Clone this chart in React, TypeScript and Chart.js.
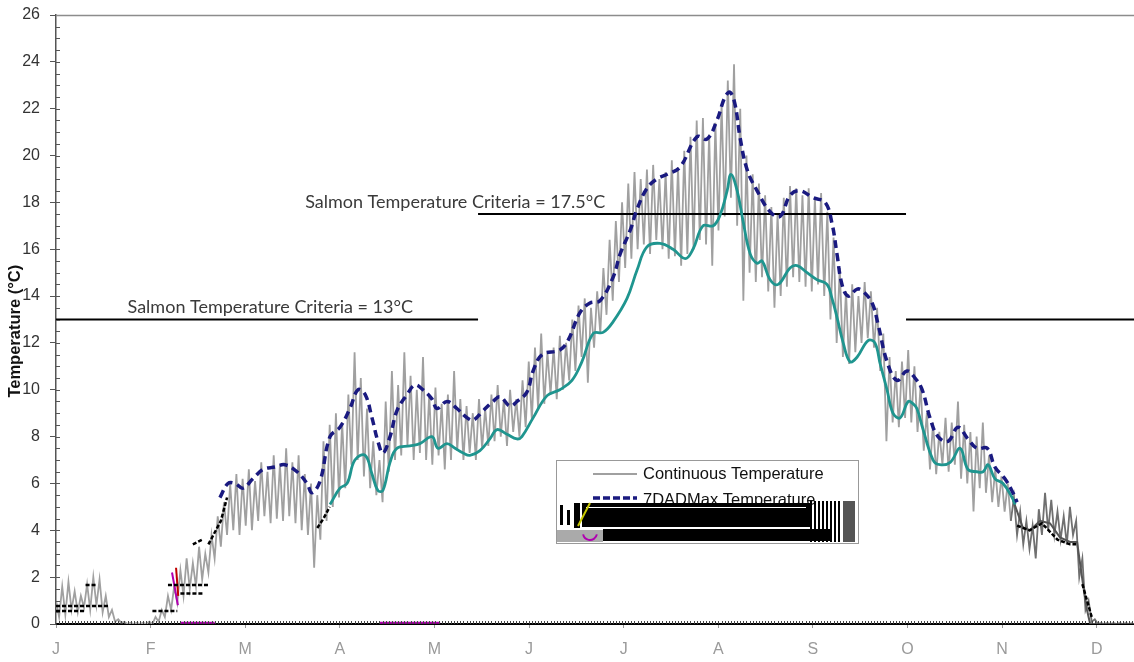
import React, { useEffect, useRef } from "react";
import { Chart, registerables } from "chart.js";
Chart.register(...registerables);

// ---------- axis labels ----------
const monthLabels = ["J", "F", "M", "A", "M", "J", "J", "A", "S", "O", "N", "D"];
const yTickLabels = [0, 2, 4, 6, 8, 10, 12, 14, 16, 18, 20, 22, 24, 26];
const yTitle = "Temperature (°C)";

// ---------- Continuous temperature: daily highs (even days) and lows (odd days) ----------
const contHigh = [
  1.0, 1.6, 1.8, 1.4, 1.2, 1.7, 2.0, 1.9, 1.2, 0.6, 0.2, 0.1, 0.05, 0.05, 0.05,
  0.1, 0.3, 0.6, 1.2, 1.6, 2.3, 2.8, 2.6, 3.3, 3.0, 3.8, 4.6, 5.2, 6.0, 6.4,
  6.2, 6.6, 6.1, 6.9, 6.5, 7.2, 6.8, 7.5, 6.9, 7.2, 6.4, 6.0, 5.5, 7.8, 8.5,
  9.0, 8.6, 9.8, 11.6, 10.5, 9.2, 7.8, 7.0, 9.5, 10.8, 10.2, 11.6, 10.6, 10.0, 11.4,
  9.8, 10.1, 9.4, 9.8, 10.8, 9.6, 9.3, 9.0, 9.6, 9.2, 9.8, 10.2, 9.6, 10.0, 9.6,
  10.4, 11.2, 11.8, 12.4, 11.6, 11.8, 12.3, 12.0, 13.0, 13.6, 13.9, 13.5, 14.2, 15.2, 16.4,
  17.2, 18.0, 18.8, 19.3, 19.0, 19.4, 19.6, 19.0, 19.3, 19.8, 19.5, 20.2, 20.8, 21.5, 21.6,
  20.9, 21.4, 22.2, 23.2, 23.9, 22.0, 20.0, 19.2, 18.8, 18.3, 17.8, 17.5, 18.2, 18.7, 18.6,
  18.3, 18.6, 18.2, 18.4, 17.6, 16.5, 15.2, 14.2, 14.5, 14.0, 14.6, 14.2, 13.5, 12.4, 11.4,
  10.8, 11.2, 11.7, 11.0, 10.2, 9.0, 8.6, 8.2, 8.8, 8.6, 9.5, 8.5, 8.2, 8.0, 8.6,
  7.2, 6.6, 6.3, 6.0, 5.4, 4.8, 4.4, 4.2, 4.9, 5.6, 5.3, 4.8, 4.6, 5.0, 4.4,
  2.8, 1.0, 0.2, 0.05, 0.05, 0.05, 0.05, 0.05, 0.05,
];
const contLow = [
  0.3, 0.4, 0.6, 0.5, 0.7, 0.6, 0.8, 0.5, 0.3, 0.1, 0.05, 0.0, 0.0, 0.0, 0.0,
  0.0, 0.1, 0.3, 0.6, 0.9, 1.2, 1.5, 1.6, 1.9, 2.2, 2.8, 3.3, 3.8, 4.0, 3.8,
  4.2, 4.0, 4.4, 4.6, 4.3, 4.5, 4.4, 4.6, 4.3, 4.0, 3.8, 2.4, 3.6, 4.4, 5.0,
  5.4, 5.8, 6.8, 7.0, 6.3, 5.8, 5.5, 5.2, 6.5, 7.0, 7.2, 7.6, 7.0, 7.3, 7.0,
  6.8, 7.2, 6.6, 7.0, 7.4, 7.0, 7.3, 7.0, 7.5, 7.6, 7.8, 8.0, 7.6, 8.2, 8.0,
  8.4, 8.7, 9.2, 9.4, 9.8, 9.6, 10.0, 10.4, 10.8, 11.4, 10.3, 11.8, 12.4, 13.2, 13.8,
  14.6, 15.2, 15.6, 16.0, 16.2, 15.8, 16.4, 16.0, 15.6, 15.7, 15.3, 15.8, 16.0, 16.4, 16.2,
  15.3, 16.8, 17.4, 18.2, 17.0, 13.8, 15.0, 14.6, 14.8, 14.2, 13.5, 14.0, 14.4, 14.8, 14.6,
  14.4, 14.2, 14.5, 14.0, 13.0, 12.0, 11.4, 11.1, 11.6, 12.0, 12.2, 11.8, 10.8, 7.8, 8.6,
  8.4, 8.8, 8.6, 8.2, 7.4, 6.6, 6.4, 6.8, 6.5, 6.8, 6.2, 6.0, 4.8, 5.8, 5.6,
  5.2, 5.0, 4.8, 4.4, 3.8, 3.4, 3.2, 2.8, 3.8, 4.0, 3.8, 3.6, 3.4, 3.8, 2.0,
  0.6, 0.1, 0.0, 0.0, 0.0, 0.0, 0.0, 0.0,
];

// ---------- 7DADMax temperature ----------
const maxDays = [
  52.7, 55.3, 57.6, 60.1, 63.3, 66.6, 70.4, 73.6, 77.5, 80.7, 82.3, 84.9, 88.1, 91.3, 94.5,
  97.1, 99.4, 101.6, 103.5, 105.1, 107.4, 109.6, 112.9, 115.4, 118.0, 120.9, 122.5, 125.7, 128.9, 132.2,
  134.1, 137.3, 140.5, 142.8, 146.0, 148.2, 151.4, 153.4, 156.3, 162.0, 164.6, 168.5, 171.7, 174.9, 179.1,
  181.4, 184.6, 186.8, 190.0, 193.2, 196.5, 200.6, 206.1, 209.3, 212.5, 215.1, 216.7, 218.3, 219.9, 222.2,
  225.4, 229.6, 232.8, 236.0, 239.2, 243.4, 247.3, 249.5, 251.1, 252.7, 254.7, 257.6, 259.5, 262.4, 264.3,
  267.2, 270.4, 273.6, 276.2, 278.5, 281.0, 283.6, 286.8, 290.0, 293.2, 296.1, 299.4, 301.9, 305.1, 307.7,
  309.0,
];
const maxTemps = [
  5.4, 6.0, 6.0, 5.8, 6.2, 6.6, 6.7, 6.8, 6.5, 6.0, 5.6, 6.1, 8.0, 8.4, 9.2,
  10.0, 9.8, 8.8, 7.8, 7.3, 8.0, 9.1, 9.8, 10.2, 10.0, 9.6, 9.2, 9.5, 9.2, 8.8,
  8.7, 9.1, 9.5, 9.7, 9.3, 9.5, 9.9, 10.8, 11.5, 11.7, 12.1, 13.3, 13.7, 13.8, 14.8,
  15.8, 16.8, 17.7, 18.6, 19.0, 19.2, 19.5, 20.8, 20.7, 21.5, 22.5, 22.7, 22.2, 20.8, 19.4,
  18.5, 17.6, 17.4, 18.3, 18.5, 18.2, 18.0, 17.1, 15.8, 14.5, 14.0, 14.3, 14.2, 13.7, 12.8,
  11.2, 10.4, 10.8, 10.5, 10.0, 8.8, 8.0, 7.8, 8.4, 7.9, 7.5, 7.5, 6.7, 6.2, 5.6,
  5.2,
];

// ---------- 7-day average mean temperature ----------
const meanDays = [
  88.1, 91.3, 93.6, 96.1, 99.4, 101.6, 103.5, 105.1, 107.4, 109.6, 113.8, 117.0, 120.9, 122.8, 125.7,
  128.3, 130.9, 133.1, 136.3, 139.5, 141.8, 145.0, 148.2, 149.8, 153.4, 157.9, 162.0, 165.9, 169.1, 172.7,
  175.9, 179.1, 183.6, 186.8, 190.0, 194.2, 198.4, 202.3, 204.8, 208.0, 211.3, 213.5, 215.8, 217.0, 219.0,
  220.9, 223.2, 225.4, 227.0, 229.6, 232.2, 236.0, 238.3, 241.5, 244.7, 247.9, 249.5, 251.1, 253.1, 255.3,
  257.6, 261.1, 263.3, 265.0, 267.2, 269.1, 271.4, 274.0, 275.6, 276.8, 278.8, 282.0, 284.2, 287.5, 290.7,
  293.2, 296.1, 298.1, 299.7, 301.9, 304.5, 307.4, 308.4,
];
const meanTemps = [
  5.1, 5.8, 6.0, 7.0, 7.2, 6.4, 5.7, 5.7, 6.9, 7.5, 7.6, 7.7, 8.0, 7.5, 7.7,
  7.5, 7.3, 7.2, 7.4, 7.9, 8.3, 8.1, 7.9, 8.0, 8.8, 9.75, 10.0, 10.4, 11.2, 12.4,
  12.45, 12.9, 13.9, 15.1, 16.1, 16.25, 16.0, 15.6, 16.0, 17.0, 17.0, 17.45, 18.5, 19.2, 18.5,
  17.2, 15.8, 15.4, 15.5, 14.7, 14.5, 15.2, 15.3, 15.0, 14.7, 14.5, 13.9, 13.1, 12.0, 11.2,
  11.4, 12.1, 12.0, 11.1, 10.0, 9.0, 8.8, 9.5, 9.4, 9.2, 8.3, 7.0, 6.8, 6.9, 7.5,
  6.6, 6.5, 6.5, 6.8, 6.2, 6.0, 5.4, 5.1,
];

// ---------- other-site traces (winter fragments) ----------
const darkDays = [307.7, 310.9, 313.2, 316.4, 319.6, 322.8, 326.0, 328.3, 330.2, 331.5, 332.5, 346.6];
const darkTemps = [5.3, 4.1, 4.0, 4.4, 4.3, 3.7, 3.5, 3.5, 1.7, 0.6, 0.0, 0.0];

const blackDays = [
  0, 9, 9, 0, 17, 17, 9.5, 13, 13, 31, 39, 39, 36, 49, 49, 40, 47.5, 47.5,
  44, 47, 47, 49, 53, 55, 55, 84, 86, 88, 88, 309, 313, 317, 322, 326, 328, 328, 330, 333,
];
const blackTemps = [
  0.55, 0.55, null, 0.77, 0.77, null, 1.67, 1.67, null, 0.55, 0.55, null, 1.67, 1.67, null, 1.3, 1.3, null,
  3.4, 3.6, null, 3.4, 4.4, 5.4, null, 4.1, 4.5, 5.0, null, 4.2, 4.0, 4.3, 3.6, 3.4, 3.4, null, 1.7, 0.3,
];

const magentaDays = [40, 51, 51, 104, 123.5, 123.5, 37.3, 39.2];
const magentaTemps = [0.05, 0.05, null, 0.05, 0.05, null, 2.2, 0.8];
const redDays = [38.6, 39.3];
const redTemps = [2.4, 1.2];

// ---------- criteria ----------
const criteriaLowDays = [0, 135.7];
const criteriaHighDays = [135.7, 273.3];
const criteriaLateDays = [273.3, 346.6];
const criteriaLow = 13;
const criteriaHigh = 17.5;
const darkStartDay = 307;
const darkEndDay = 334;

const X_MAX = 346.6;
const MONTH_LEN = 30.42;

const zip = (xs: number[], ys: (number | null)[]) => xs.map((x, i) => ({ x, y: ys[i] }));

const extrasPlugin = {
  id: "extras",
  afterDatasetsDraw(chart: any) {
    const { ctx, chartArea, scales } = chart;
    const xs = scales.x;
    const ys = scales.y;
    ctx.save();
    // top border
    ctx.strokeStyle = "#8c8c8c";
    ctx.lineWidth = 1.5;
    ctx.beginPath();
    ctx.moveTo(chartArea.left, chartArea.top + 0.5);
    ctx.lineTo(chartArea.right, chartArea.top + 0.5);
    ctx.stroke();
    // y minor ticks
    ctx.strokeStyle = "#555";
    ctx.lineWidth = 1;
    for (let v = 0.5; v < 26; v += 0.5) {
      const y = Math.round(ys.getPixelForValue(v)) + 0.5;
      ctx.beginPath();
      ctx.moveTo(chartArea.left, y);
      ctx.lineTo(chartArea.left + 4, y);
      ctx.stroke();
    }
    // x minor ticks (daily)
    ctx.strokeStyle = "#444";
    for (let d = 1; d < X_MAX; d += 1) {
      const x = Math.round(xs.getPixelForValue(d)) + 0.5;
      ctx.beginPath();
      ctx.moveTo(x, chartArea.bottom);
      ctx.lineTo(x, chartArea.bottom - 3);
      ctx.stroke();
    }
    // criteria labels
    ctx.fillStyle = "#3a3a3a";
    ctx.font = "18px Lato";
    ctx.textBaseline = "alphabetic";
    ctx.fillText("Salmon Temperature Criteria = 13°C", xs.getPixelForValue(23), ys.getPixelForValue(criteriaLow) - 7);
    ctx.fillText("Salmon Temperature Criteria = 17.5°C", xs.getPixelForValue(80.1), ys.getPixelForValue(criteriaHigh) - 6);
    // y axis title
    ctx.save();
    ctx.translate(15, ys.getPixelForValue(12.5));
    ctx.rotate(-Math.PI / 2);
    ctx.fillStyle = "#111";
    ctx.font = 'bold 16.5px "Liberation Sans"';
    ctx.textAlign = "center";
    ctx.textBaseline = "middle";
    ctx.fillText(yTitle, 0, 0);
    ctx.restore();
    ctx.restore();
  },
  afterDraw(chart: any) {
    const { ctx } = chart;
    ctx.save();
    // legend box
    ctx.fillStyle = "#fff";
    ctx.fillRect(556, 460, 302, 83);
    ctx.strokeStyle = "#999";
    ctx.lineWidth = 1;
    ctx.strokeRect(556.5, 460.5, 302, 83);
    ctx.strokeStyle = "#a0a0a0";
    ctx.lineWidth = 2;
    ctx.beginPath();
    ctx.moveTo(593, 474);
    ctx.lineTo(637, 474);
    ctx.stroke();
    ctx.fillStyle = "#111";
    ctx.font = '16.5px "Liberation Sans"';
    ctx.textBaseline = "middle";
    ctx.fillText("Continuous Temperature", 643, 474);
    ctx.strokeStyle = "#1a1a80";
    ctx.lineWidth = 3.5;
    ctx.setLineDash([7, 3]);
    ctx.beginPath();
    ctx.moveTo(593, 498);
    ctx.lineTo(637, 498);
    ctx.stroke();
    ctx.setLineDash([]);
    ctx.fillText("7DADMax Temperature", 643, 500);
    // overdrawn blocks
    ctx.fillStyle = "#000";
    ctx.fillRect(582, 503, 228, 24);
    ctx.fillStyle = "#fff";
    ctx.fillRect(586, 507, 220, 1);
    ctx.fillStyle = "#000";
    for (let x = 810; x < 842; x += 4) ctx.fillRect(x, 501, 2, 41);
    ctx.fillStyle = "#555";
    ctx.fillRect(843, 501, 12, 41);
    ctx.fillStyle = "#aaa";
    ctx.fillRect(557, 530, 46, 12);
    ctx.fillStyle = "#000";
    ctx.fillRect(603, 529, 229, 12);
    ctx.fillRect(560, 505, 3, 20);
    ctx.fillRect(567, 510, 3, 15);
    ctx.fillRect(574, 503, 6, 25);
    ctx.strokeStyle = "#c8c800";
    ctx.lineWidth = 2;
    ctx.beginPath();
    ctx.moveTo(578, 526);
    ctx.lineTo(590, 503);
    ctx.stroke();
    ctx.strokeStyle = "#b000b0";
    ctx.beginPath();
    ctx.arc(590, 533, 7, 0.2, Math.PI - 0.2);
    ctx.stroke();
    ctx.restore();
  },
};

export default function App() {
  const canvasRef = useRef<HTMLCanvasElement | null>(null);

  useEffect(() => {
    const contPoints: { x: number; y: number }[] = [];
    const n = contHigh.length + contLow.length;
    for (let d = 0; d < n; d++) {
      contPoints.push({ x: d, y: d % 2 === 0 ? contHigh[d / 2] : contLow[(d - 1) / 2] });
    }
    const base = { pointRadius: 0, pointHoverRadius: 0, fill: false, spanGaps: false };
    const chart = new Chart(canvasRef.current as HTMLCanvasElement, {
      type: "line",
      data: {
        datasets: [
          { ...base, label: "7DADMax Temperature", data: zip(maxDays, maxTemps), borderColor: "#1a1a80", borderWidth: 3.5, borderDash: [8, 5], tension: 0.4, order: 0 },
          { ...base, label: "7DADM Temperature", data: zip(meanDays, meanTemps), borderColor: "#1f958f", borderWidth: 2.8, tension: 0.4, order: 1 },
          { ...base, label: "Criteria 13", data: zip(criteriaLowDays, criteriaLowDays.map(() => criteriaLow)), borderColor: "#000", borderWidth: 2, order: 2 },
          { ...base, label: "Criteria 17.5", data: zip(criteriaHighDays, criteriaHighDays.map(() => criteriaHigh)), borderColor: "#000", borderWidth: 2, order: 2 },
          { ...base, label: "Criteria 13b", data: zip(criteriaLateDays, criteriaLateDays.map(() => criteriaLow)), borderColor: "#000", borderWidth: 2, order: 2 },
          { ...base, label: "Other", data: zip(blackDays, blackTemps), borderColor: "#000", borderWidth: 2.5, borderDash: [4, 2], order: 3 },
          { ...base, label: "Other2", data: zip(redDays, redTemps), borderColor: "#c00000", borderWidth: 2, order: 3 },
          { ...base, label: "Other3", data: zip(magentaDays, magentaTemps), borderColor: "#b000b0", borderWidth: 2, order: 3 },
          { ...base, label: "Dark", data: zip(darkDays, darkTemps), borderColor: "#555", borderWidth: 2, order: 4 },
          {
            ...base,
            label: "Continuous Temperature",
            data: contPoints,
            borderColor: "#a0a0a0",
            borderWidth: 1.8,
            tension: 0,
            order: 5,
            segment: {
              borderColor: (c: any) =>
                c.p0.parsed.x >= darkStartDay && c.p0.parsed.x <= darkEndDay ? "#707070" : "#a0a0a0",
            },
          },
        ],
      },
      options: {
        animation: false,
        responsive: true,
        maintainAspectRatio: false,
        layout: { padding: { top: 15, right: 0, bottom: 0, left: 0 } },
        plugins: { legend: { display: false }, tooltip: { enabled: false } },
        scales: {
          x: {
            type: "linear",
            min: 0,
            max: X_MAX,
            afterBuildTicks: (scale: any) => {
              scale.ticks = monthLabels.map((_, i) => ({ value: i * MONTH_LEN }));
            },
            afterFit: (scale: any) => {
              scale.height = 38;
            },
            ticks: {
              autoSkip: false,
              maxRotation: 0,
              color: "#9a9a9a",
              font: { family: "Liberation Sans", size: 16 },
              padding: 12,
              callback: (_v: any, i: number) => monthLabels[i],
            },
            grid: { drawOnChartArea: false, drawTicks: true, tickLength: 4, color: "#999" },
            border: { color: "#000", width: 2 },
          },
          y: {
            min: 0,
            max: 26,
            afterBuildTicks: (scale: any) => {
              scale.ticks = yTickLabels.map((v) => ({ value: v }));
            },
            afterFit: (scale: any) => {
              scale.width = 56;
            },
            ticks: {
              color: "#333",
              font: { family: "Liberation Sans", size: 16, lineHeight: 0.6 },
              padding: 10,
              callback: (v: any) => String(v),
            },
            grid: { drawOnChartArea: false, drawTicks: true, tickLength: 6, color: "#555" },
            border: { color: "#555", width: 1.5 },
          },
        },
      },
      plugins: [extrasPlugin],
    } as any);
    return () => chart.destroy();
  }, []);

  return (
    <div style={{ position: "fixed", left: 0, top: 0, width: 1134, height: 662, background: "#fff" }}>
      <canvas ref={canvasRef} />
    </div>
  );
}
